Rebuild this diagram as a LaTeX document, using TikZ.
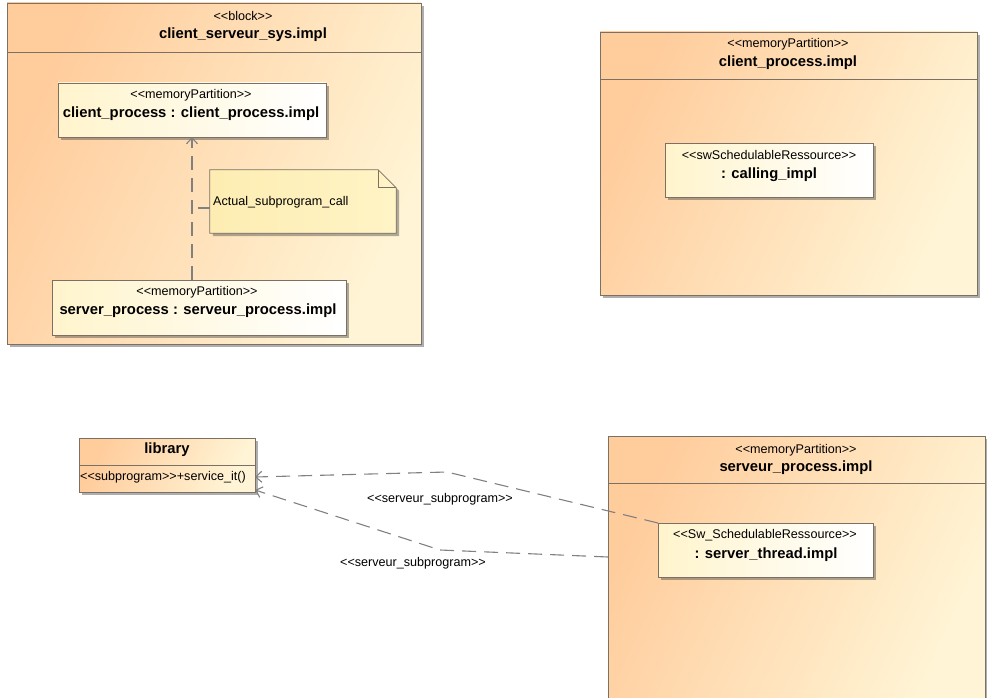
\documentclass[tikz,border=0pt]{standalone}
\usepackage{fontspec}
\setmainfont{Liberation Sans}
\usetikzlibrary{positioning, calc, arrows.meta, shadows}

\definecolor{peach}{HTML}{FFCC9C}
\definecolor{cream}{HTML}{FFF5D6}
\definecolor{paleyel}{HTML}{FFF4CC}
\definecolor{notefill}{HTML}{FDEDB2}
\definecolor{notelite}{HTML}{FFF4C6}
\definecolor{edge}{HTML}{7C7064}

% guillemet-free stereotype brackets
\newcommand{\lgl}{<{}<}
\newcommand{\rgl}{>{}>}

\tikzset{
  stereo/.style={font=\fontsize{12.6}{14}\selectfont, inner sep=0pt},
  bname/.style={font=\bfseries\fontsize{14.8}{16}\selectfont, inner sep=0pt},
  shad/.style={drop shadow={shadow xshift=3pt, shadow yshift=-3pt, opacity=0.45, fill=black!70}},
  block/.style={shad, draw=edge, line width=0.8pt, left color=peach, right color=cream,
    shading angle=65, inner sep=0pt, outer sep=0pt},
  partbox/.style={shad, draw=edge, line width=0.8pt, left color=paleyel, right color=white,
    inner sep=0pt, outer sep=0pt},
  dep/.style={draw=black!50, line width=1.1pt, dash pattern=on 14pt off 8pt,
    -{Straight Barb[length=6pt, width=11pt, line width=1.1pt]}},
}

\begin{document}
\begin{tikzpicture}[x=1pt, y=-1pt]
    \useasboundingbox (0,0) rectangle (987,698);

    % block client_serveur_sys.impl
    \node[block, minimum width=414pt, minimum height=341pt] (sys) at (214,173.5) {};
    \draw[edge, line width=0.8pt] ([yshift=-49pt]sys.north west) -- ([yshift=-49pt]sys.north east);
    \node[stereo] (sysst) at (243,16) {\lgl block\rgl};
    \node[bname] (sysnm) at (243,35) {client\_serveur\_sys.impl};

    % parts inside the block
    \node[partbox, minimum width=268pt, minimum height=54pt] (cliproc) at (192,110) {};
    \node[stereo] (clist) at (191,95) {\lgl memoryPartition\rgl};
    \node[bname] (clinm) at (191,114) {client\_process : client\_process.impl};

    \node[partbox, minimum width=294pt, minimum height=55pt] (srvproc) at (199,307.5) {};
    \node[stereo] (srvst) at (197,292) {\lgl memoryPartition\rgl};
    \node[bname] (srvnm) at (198,311) {server\_process : serveur\_process.impl};

    % note with folded corner
    \node[minimum width=186pt, minimum height=63pt, inner sep=0pt] (note) at (303,201.5) {};
    \path[shad, left color=notefill, right color=notelite, draw=edge, line width=0.8pt]
        (note.north west) -- ([xshift=-18pt]note.north east) -- ([yshift=-18pt]note.north east)
        -- (note.south east) -- (note.south west) -- cycle;
    \draw[edge, line width=0.8pt] ([xshift=-18pt]note.north east) -- ([xshift=-18pt, yshift=-18pt]note.north east)
        -- ([yshift=-18pt]note.north east);
    \node[stereo, anchor=west] (notetx) at (213,202) {Actual\_subprogram\_call};

    % dependency between the parts, with the note hook
    \draw[dep] (cliproc.south |- srvproc.north) -- (cliproc.south);
    \coordinate (hook) at (198,208);
    \draw[dep, -] (hook) -- (hook -| note.west);

    % block client_process.impl
    \node[block, minimum width=377pt, minimum height=263pt] (cpimpl) at (788.5,163.5) {};
    \draw[edge, line width=0.8pt] ([yshift=-47pt]cpimpl.north west) -- ([yshift=-47pt]cpimpl.north east);
    \node[stereo] (cpst) at (788,44) {\lgl memoryPartition\rgl};
    \node[bname] (cpnm) at (788,63) {client\_process.impl};

    \node[partbox, minimum width=208pt, minimum height=54pt] (calling) at (769,170) {};
    \node[stereo] (callst) at (769,155) {\lgl swSchedulableRessource\rgl};
    \node[bname] (callnm) at (769,175) {: calling\_impl};

    % class library
    \node[block, minimum width=176pt, minimum height=54pt] (lib) at (167,465) {};
    \draw[edge, line width=0.8pt] ([yshift=-27pt]lib.north west) -- ([yshift=-27pt]lib.north east);
    \node[bname] (libnm) at (167,450) {library};
    \node[stereo, anchor=west] (svc) at (80,477) {\lgl subprogram\rgl+service\_it()};

    % block serveur_process.impl
    \node[block, minimum width=377pt, minimum height=269pt] (spimpl) at (796.5,570.5) {};
    \draw[edge, line width=0.8pt] ([yshift=-47pt]spimpl.north west) -- ([yshift=-47pt]spimpl.north east);
    \node[stereo] (spst) at (796,450) {\lgl memoryPartition\rgl};
    \node[bname] (spnm) at (796,468) {serveur\_process.impl};

    \node[partbox, minimum width=215pt, minimum height=54pt] (thread) at (765.5,550) {};
    \node[stereo] (thst) at (765,535) {\lgl Sw\_SchedulableRessource\rgl};
    \node[bname] (thnm) at (766,555) {: server\_thread.impl};

    % serveur_subprogram dependencies
    \coordinate (bendA) at (447,472);
    \coordinate (bendB) at (440,550);
    \coordinate (lowin) at (608,557);
    \draw[dep] (thread.north west) -- (bendA) -- (lib.east |- svc.east);
    \draw[dep] (lowin) -- (bendB) -- ([yshift=2pt]lib.south east);
    \node[stereo] (depA) at (440,499) {\lgl serveur\_subprogram\rgl};
    \node[stereo] (depB) at (413,563) {\lgl serveur\_subprogram\rgl};
\end{tikzpicture}
\end{document}
